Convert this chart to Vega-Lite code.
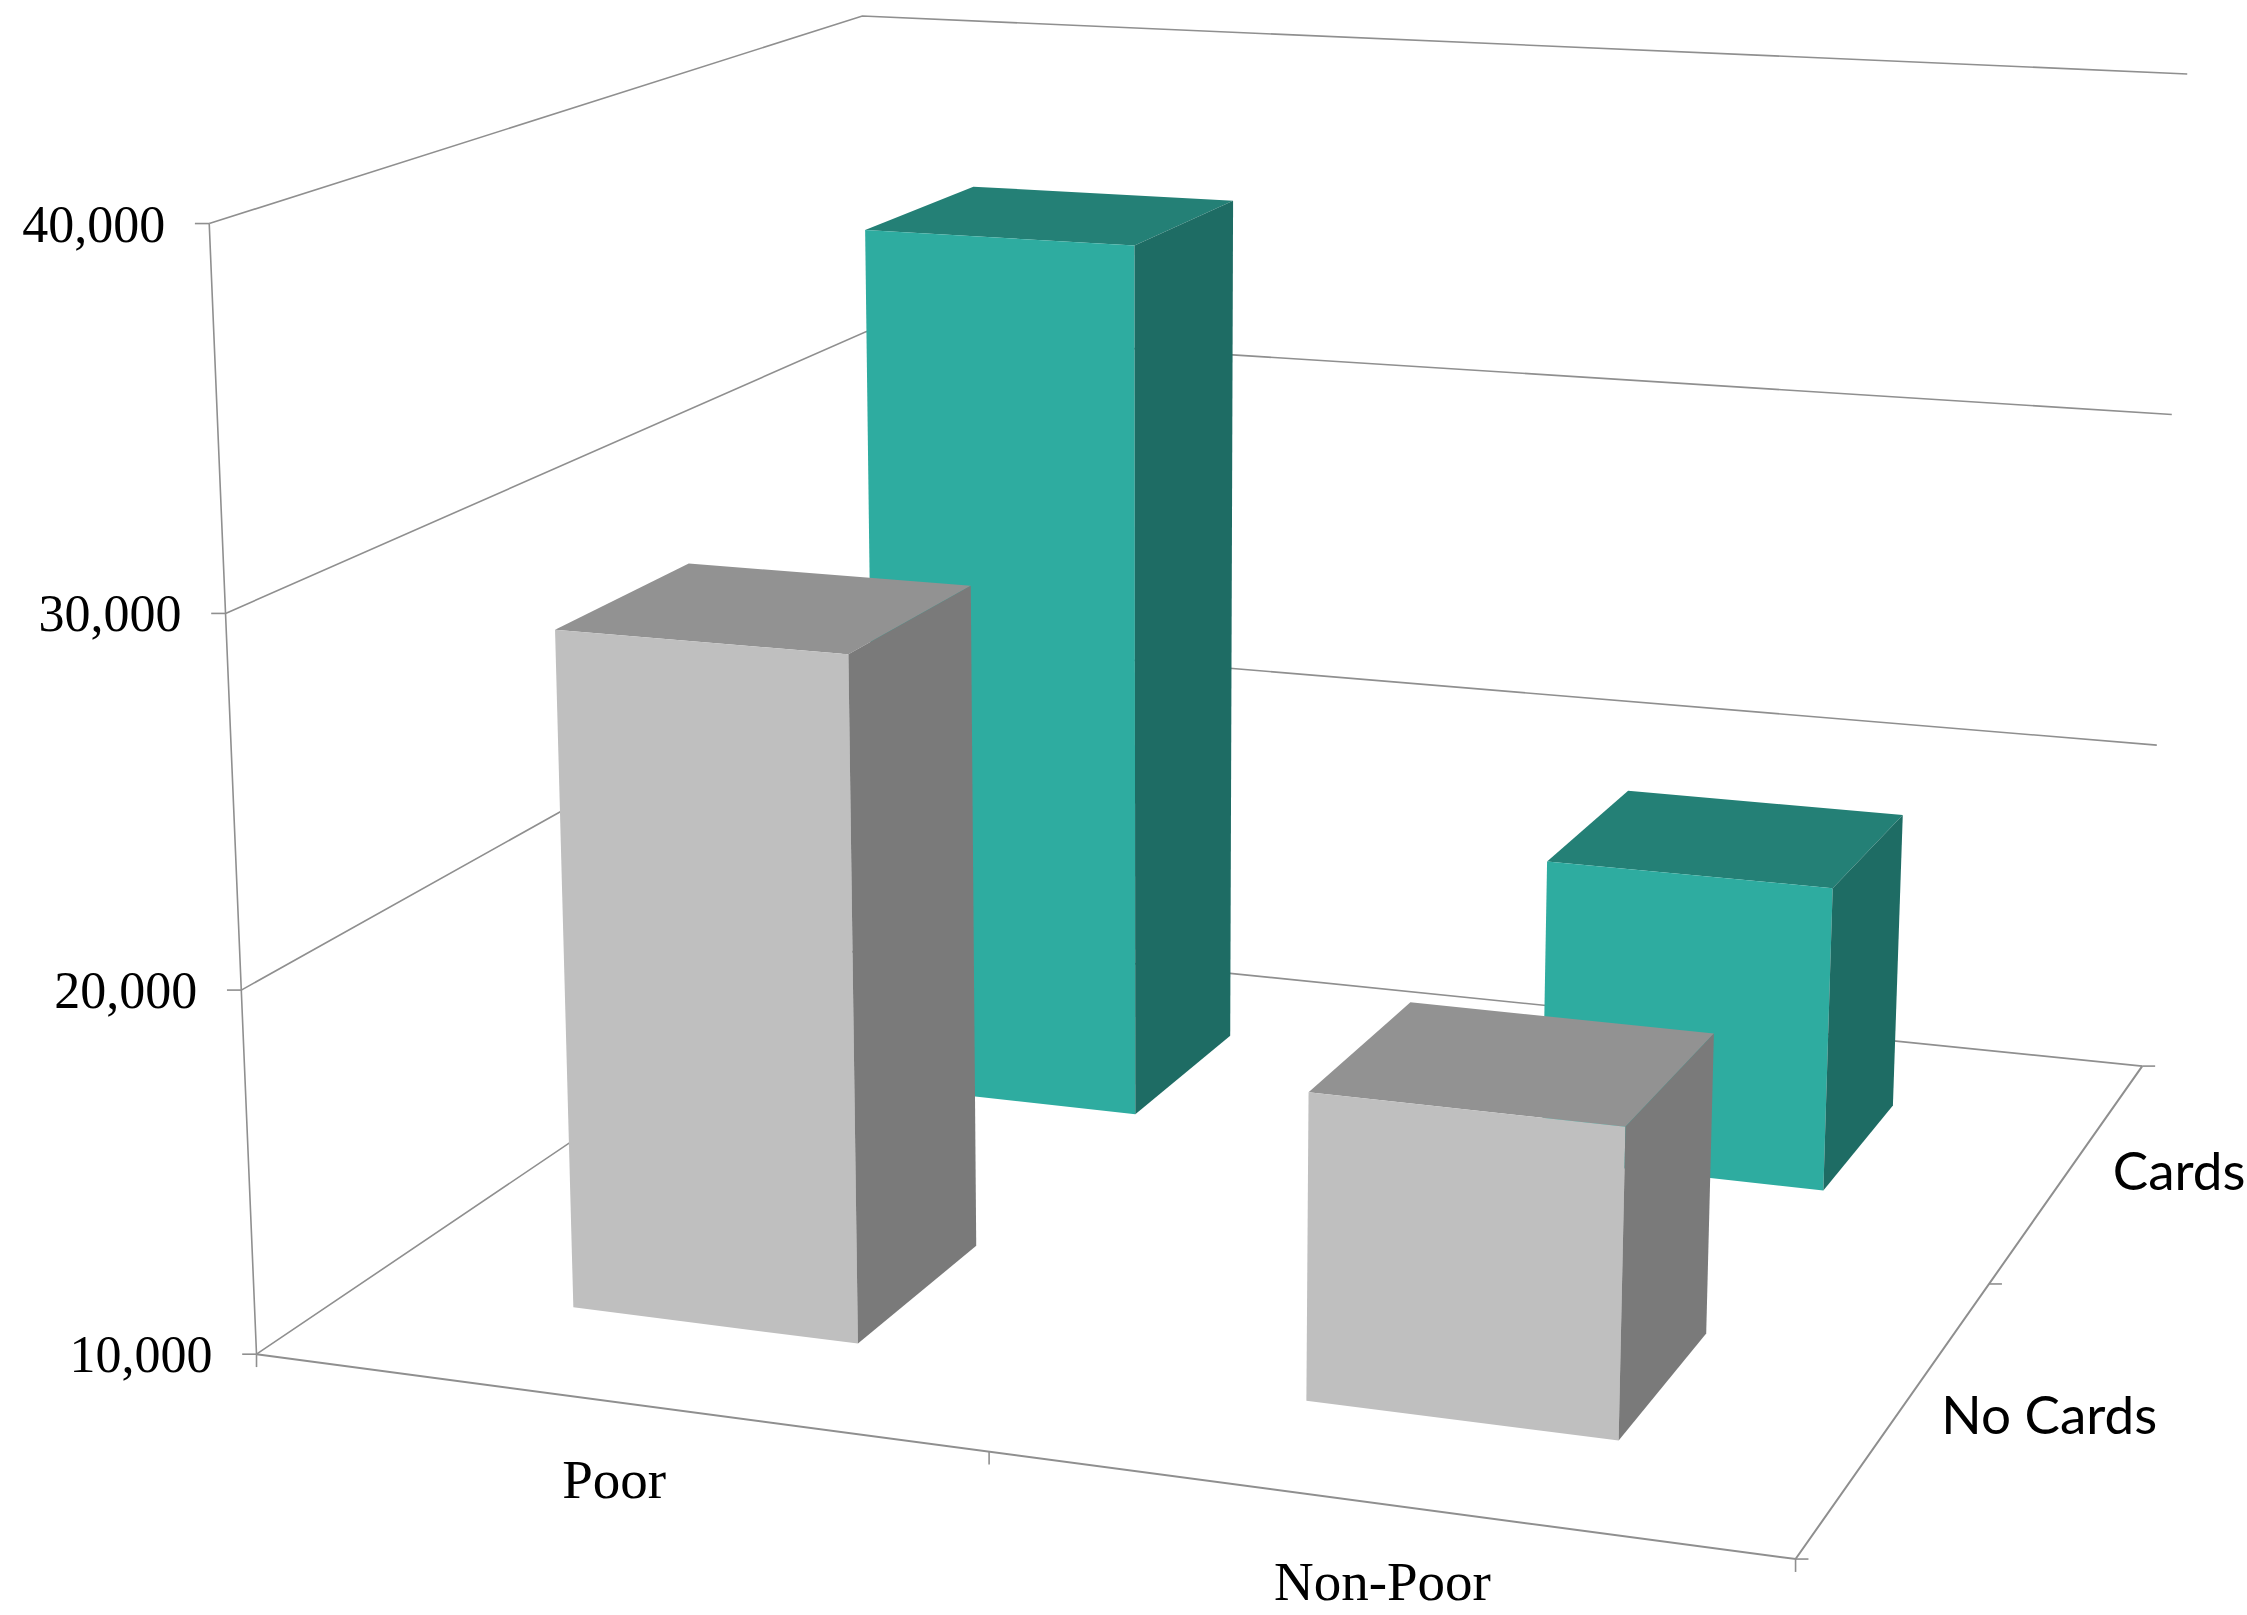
{
"$schema":"https://vega.github.io/schema/vega-lite/v6.json",
"width":2247,"height":1615,"padding":0,"autosize":"none",
"background":"white",
"view":{"stroke":null},
"datasets":{
"bars":[
{"poverty":"Poor","cards":"Cards","income":35900},
{"poverty":"Non-Poor","cards":"Cards","income":18900},
{"poverty":"Poor","cards":"No Cards","income":28700},
{"poverty":"Non-Poor","cards":"No Cards","income":18300}],
"levels":[{"level":10000},{"level":20000},{"level":30000},{"level":40000}],
"povertyEdges":[{"edge":0},{"edge":1},{"edge":2}],
"cardEdges":[{"edge":0},{"edge":1},{"edge":2}],
"povertyLabels":[{"poverty":"Poor"},{"poverty":"Non-Poor"}],
"cardLabels":[{"cards":"No Cards"},{"cards":"Cards"}]
},
"encoding":{
 "x":{"field":"sx","type":"quantitative","scale":{"domain":[0,1568],"nice":false,"zero":false},"axis":null},
 "y":{"field":"sy","type":"quantitative","scale":{"domain":[1127,0],"nice":false,"zero":false},"axis":null}},
"layer":[
{"data":{"name":"levels"},
 "transform":[
  {"calculate":"[0,0,1]","as":"pu"},{"calculate":"[0,1,1]","as":"pv"},{"calculate":"[0,1,2]","as":"pi"},
  {"flatten":["pu","pv","pi"]},
  {"calculate":"(datum.level-10000)/30000","as":"h"},
  {"calculate":"(179+959.2*datum.pu+576.6*datum.pv-40.3*datum.h)/(1-0.0916*datum.pu+0.2387*datum.pv-0.05*datum.h)","as":"sx"},
  {"calculate":"(945+43.3*datum.pu-134.9*datum.pv-796.8*datum.h)/(1-0.0916*datum.pu+0.2387*datum.pv-0.05*datum.h)","as":"sy"}],
 "mark":{"type":"line","stroke":"#8f8f8f","strokeWidth":1.6},
 "encoding":{"detail":{"field":"level"},"order":{"field":"pi"}}},
{"data":{"name":"levels"},
 "transform":[
  {"calculate":"(datum.level-10000)/30000","as":"h"},
  {"calculate":"(179-40.3*datum.h)/(1-0.05*datum.h)","as":"sx"},
  {"calculate":"(945-796.8*datum.h)/(1-0.05*datum.h)","as":"sy"}],
 "mark":{"type":"line","stroke":"#8f8f8f","strokeWidth":1.6},
 "encoding":{"order":{"field":"level"}}},
{"data":{"name":"levels"},
 "transform":[
  {"filter":"datum.level==10000"},
  {"calculate":"[0,1,1]","as":"pu"},{"calculate":"[0,0,1]","as":"pv"},{"calculate":"[0,1,2]","as":"pi"},
  {"flatten":["pu","pv","pi"]},
  {"calculate":"(179+959.2*datum.pu+576.6*datum.pv)/(1-0.0916*datum.pu+0.2387*datum.pv)","as":"sx"},
  {"calculate":"(945+43.3*datum.pu-134.9*datum.pv)/(1-0.0916*datum.pu+0.2387*datum.pv)","as":"sy"}],
 "mark":{"type":"line","stroke":"#8f8f8f","strokeWidth":2},
 "encoding":{"order":{"field":"pi"}}},
{"data":{"name":"levels"},
 "transform":[
  {"calculate":"(datum.level-10000)/30000","as":"h"},
  {"calculate":"(179-40.3*datum.h)/(1-0.05*datum.h)","as":"sx"},
  {"calculate":"datum.sx-10","as":"sx2"},
  {"calculate":"(945-796.8*datum.h)/(1-0.05*datum.h)","as":"sy"}],
 "mark":{"type":"rule","stroke":"#8f8f8f","strokeWidth":1.6},
 "encoding":{"x2":{"field":"sx2"}}},
{"data":{"name":"povertyEdges"},
 "transform":[
  {"calculate":"datum.edge/2","as":"u"},
  {"calculate":"(179+959.2*datum.u)/(1-0.0916*datum.u)","as":"sx"},
  {"calculate":"(945+43.3*datum.u)/(1-0.0916*datum.u)","as":"sy"},
  {"calculate":"datum.sy+9","as":"sy2"}],
 "mark":{"type":"rule","stroke":"#8f8f8f","strokeWidth":1.6},
 "encoding":{"y2":{"field":"sy2"}}},
{"data":{"name":"cardEdges"},
 "transform":[
  {"calculate":"datum.edge/2","as":"v"},
  {"calculate":"(1138.2+576.6*datum.v)/(0.9084+0.2387*datum.v)","as":"sx"},
  {"calculate":"(988.3-134.9*datum.v)/(0.9084+0.2387*datum.v)","as":"sy"},
  {"calculate":"datum.sx+9","as":"sx2"}],
 "mark":{"type":"rule","stroke":"#8f8f8f","strokeWidth":1.6},
 "encoding":{"x2":{"field":"sx2"}}},
{"data":{"name":"bars"},
 "transform":[
  {"calculate":"['top','front','side']","as":"face"},
  {"flatten":["face"]},
  {"calculate":"datum.face=='side'?[1,1,1,1]:[0,1,1,0]","as":"cu"},
  {"calculate":"datum.face=='front'?[0,0,0,0]:(datum.face=='top'?[0,0,1,1]:[0,1,1,0])","as":"cv"},
  {"calculate":"datum.face=='top'?[1,1,1,1]:[0,0,1,1]","as":"ch"},
  {"calculate":"[0,1,2,3]","as":"ci"},
  {"flatten":["cu","cv","ch","ci"]},
  {"calculate":"(datum.poverty=='Poor'?0.151:0.652)+0.2*datum.cu","as":"u"},
  {"calculate":"(datum.cards=='No Cards'?0.147:0.648)+0.2*datum.cv","as":"v"},
  {"calculate":"datum.ch*(datum.income-10000)/30000","as":"h"},
  {"calculate":"(179+959.2*datum.u+576.6*datum.v-40.3*datum.h)/(1-0.0916*datum.u+0.2387*datum.v-0.05*datum.h)","as":"sx"},
  {"calculate":"(945+43.3*datum.u-134.9*datum.v-796.8*datum.h)/(1-0.0916*datum.u+0.2387*datum.v-0.05*datum.h)","as":"sy"},
  {"calculate":"datum.cards+' '+datum.face","as":"shade"},
  {"calculate":"datum.cards+' '+datum.poverty+' '+datum.face","as":"poly"}],
 "mark":{"type":"line","strokeWidth":0},
 "encoding":{
  "detail":{"field":"poly"},"order":{"field":"ci"},
  "fill":{"field":"shade","type":"nominal","legend":null,
   "scale":{"domain":["Cards front","Cards top","Cards side","No Cards front","No Cards top","No Cards side"],
    "range":["#2eaca0","#248076","#1e6c64","#bfbfbf","#929292","#7a7a7a"]}}}},
{"data":{"name":"levels"},
 "transform":[
  {"calculate":"(datum.level-10000)/30000","as":"h"},
  {"calculate":"(179-40.3*datum.h)/(1-0.05*datum.h)","as":"sx"},
  {"calculate":"(945-796.8*datum.h)/(1-0.05*datum.h)","as":"sy"}],
 "mark":{"type":"text","align":"right","baseline":"middle","dx":-44,"dy":2,"font":"Liberation Serif","fontSize":52,"fill":"#000000"},
 "encoding":{"text":{"field":"level","type":"quantitative","format":","}}},
{"data":{"name":"povertyLabels"},
 "transform":[
  {"calculate":"datum.poverty=='Poor'?0.25:0.75","as":"u"},
  {"calculate":"(179+959.2*datum.u)/(1-0.0916*datum.u)","as":"sx"},
  {"calculate":"(945+43.3*datum.u)/(1-0.0916*datum.u)","as":"sy"}],
 "mark":{"type":"text","align":"center","baseline":"middle","dy":79,"font":"Liberation Serif","fontSize":55,"fill":"#000000"},
 "encoding":{"text":{"field":"poverty"}}},
{"data":{"name":"cardLabels"},
 "transform":[
  {"calculate":"datum.cards=='No Cards'?0.25:0.75","as":"v"},
  {"calculate":"(1138.2+576.6*datum.v)/(0.9084+0.2387*datum.v)","as":"sx"},
  {"calculate":"(988.3-134.9*datum.v)/(0.9084+0.2387*datum.v)","as":"sy"}],
 "mark":{"type":"text","align":"left","baseline":"middle","dx":43,"dy":5,"font":"Lato","fontSize":53,"fontWeight":400,"fill":"#000000"},
 "encoding":{"text":{"field":"cards"}}}
]
}
